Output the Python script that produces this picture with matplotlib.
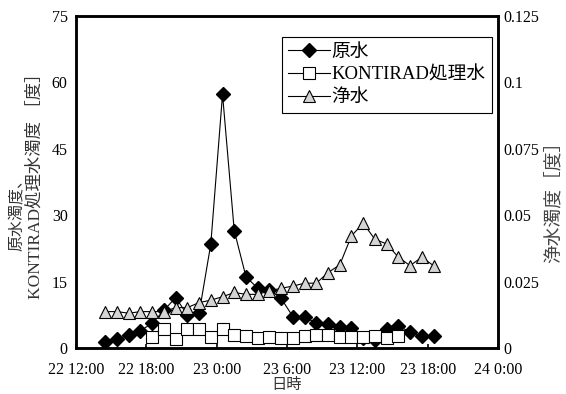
import matplotlib.pyplot as plt

plt.rcParams['font.family'] = ['Liberation Serif', 'Noto Sans CJK JP', 'DejaVu Sans']

# hours counted from 22 0:00
hours = [14.5, 15.5, 16.5, 17.5, 18.5, 19.5, 20.5, 21.5, 22.5, 23.5,
         24.5, 25.5, 26.5, 27.5, 28.5, 29.5, 30.5, 31.5, 32.5, 33.5,
         34.5, 35.5, 36.5, 37.5, 38.5, 39.5, 40.5, 41.5, 42.5]

raw = [1.3, 2.0, 2.9, 3.9, 5.6, 8.5, 11.4, 7.5, 7.8, 23.5,
       57.3, 26.5, 16.1, 13.5, 13.1, 11.2, 7.1, 6.9, 5.7, 5.4,
       4.8, 4.5, 2.3, 1.8, 4.4, 5.0, 3.6, 2.7, 2.7]

kontirad_hours = hours[4:26]
kontirad = [2.4, 4.4, 2.0, 4.4, 4.3, 2.4, 4.4, 3.0, 2.6, 2.3,
            2.4, 2.3, 2.3, 2.6, 2.9, 2.9, 2.4, 2.4, 2.4, 2.6,
            2.2, 2.6]

clean = [0.0137, 0.0137, 0.0131, 0.0137, 0.0137, 0.0137, 0.0152, 0.0152, 0.0171, 0.0180,
         0.0193, 0.0209, 0.0202, 0.0202, 0.0215, 0.0225, 0.0233, 0.0244, 0.0244, 0.0284,
         0.0313, 0.0422, 0.0470, 0.0409, 0.0392, 0.0342, 0.0310, 0.0342, 0.0310]

xticks = [12, 18, 24, 30, 36, 42, 48]
xticklabels = ['22 12:00', '22 18:00', '23 0:00', '23 6:00', '23 12:00', '23 18:00', '24 0:00']
yticks = [0, 15, 30, 45, 60, 75]
y2ticks = [0, 0.025, 0.05, 0.075, 0.1, 0.125]
y2ticklabels = ['0', '0.025', '0.05', '0.075', '0.1', '0.125']

fig = plt.figure(figsize=(5.66, 3.94), dpi=100)
ax = fig.add_axes([76 / 566, 1 - 348 / 394, 422 / 566, 332 / 394])
ax2 = ax.twinx()

l1, = ax.plot(hours, raw, '-', color='black', lw=0.8, marker='D',
              ms=7, mfc='black', mec='black', label='原水')
l2, = ax.plot(kontirad_hours, kontirad, '-', color='black', lw=0.8, marker='s',
              ms=8, mfc='white', mec='black', mew=0.8, label='KONTIRAD処理水')
l3, = ax2.plot(hours, clean, '-', color='black', lw=0.8, marker='^',
               ms=8, mfc='#d4d4d4', mec='black', mew=0.8, label='浄水')

ax.set_xlim(12, 48)
ax.set_ylim(0, 75)
ax2.set_ylim(0, 0.125)
ax.set_xticks(xticks)
ax.set_xticklabels(xticklabels)
ax.set_yticks(yticks)
ax2.set_yticks(y2ticks)
ax2.set_yticklabels(y2ticklabels)

for a in (ax, ax2):
    for s in a.spines.values():
        s.set_linewidth(1.8)
    a.tick_params(direction='in', length=3, width=1.2, labelsize=11.5)
ax.tick_params(axis='x', pad=10)
ax.tick_params(axis='y', length=0, pad=6)
ax2.tick_params(axis='y', length=0, pad=4)

ax.set_xlabel('日時', fontsize=11, color='#333333', labelpad=0)

fig.text(17 / 566, 1 - 211 / 394, '原水濁度、', rotation=90, ha='center', va='center',
         fontsize=11.5, color='#333333')
fig.text(35 / 566, 1 - 182 / 394, 'KONTIRAD処理水濁度 ［度］', rotation=90, ha='center',
         va='center', fontsize=12.5, color='#333333')
fig.text(555 / 566, 1 - 197 / 394, '浄水濁度［度］', rotation=90, ha='center', va='center',
         fontsize=13.5, color='#444444')

leg = ax2.legend(handles=[l1, l2, l3], loc='upper right', bbox_to_anchor=(0.986, 0.937),
                 borderaxespad=0, fancybox=False, edgecolor='black', fontsize=13.5,
                 handlelength=2.2, handletextpad=0.1, borderpad=0.35, labelspacing=0.3,
                 framealpha=1)
leg.get_frame().set_linewidth(0.8)

fig.savefig('out.png', dpi=100)
